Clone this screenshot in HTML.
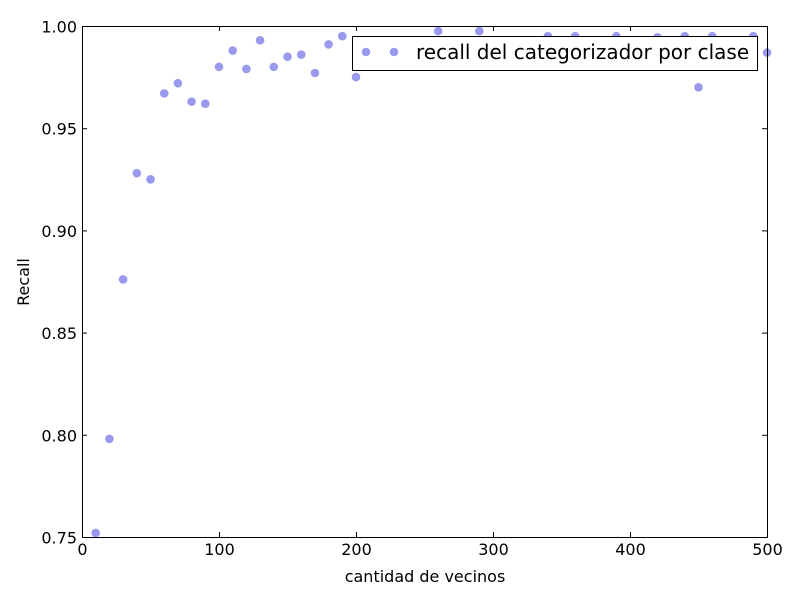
<!DOCTYPE html>
<html><head><meta charset="utf-8"><style>
body{margin:0;background:#fff;}
svg text{font-family:"DejaVu Sans","Liberation Sans",sans-serif;}
</style></head><body>
<svg id="chart" width="800" height="600">
<rect x="0" y="0" width="800" height="600" fill="#fff"/>
<g id="marks"></g>
<g id="axes"></g>
<g>
<rect x="352.5" y="36.5" width="405" height="34" fill="#fff" stroke="#000" stroke-width="1"/>
<circle cx="366" cy="52" r="4.3" fill="#9999ee"/>
<circle cx="394" cy="52" r="4.3" fill="#9999ee"/>
<text x="416" y="59" font-size="20">recall del categorizador por clase</text>
</g>
<text x="425" y="582" font-size="16" text-anchor="middle">cantidad de vecinos</text>
<text x="29" y="282" font-size="16" text-anchor="middle" transform="rotate(-90 29 282)">Recall</text>
</svg>
<script>
const neighbors = [10,20,30,40,50,60,70,80,90,100,110,120,130,140,150,160,170,180,190,200,210,220,230,240,250,260,270,280,290,300,310,320,330,340,350,360,370,380,390,400,410,420,430,440,450,460,470,480,490,500];
const recall = [0.752,0.798,0.876,0.928,0.925,0.967,0.972,0.963,0.962,0.980,0.988,0.979,0.993,0.980,0.985,0.986,0.977,0.991,0.995,0.975,0.990,0.980,0.990,0.990,0.990,0.9975,0.990,0.990,0.9975,0.990,0.990,0.990,0.990,0.995,0.990,0.995,0.990,0.990,0.995,0.990,0.990,0.9945,0.990,0.995,0.970,0.995,0.990,0.990,0.995,0.987];
const xTicks = [0,100,200,300,400,500];
const yTicks = [0.75,0.80,0.85,0.90,0.95,1.00];
const L=82,R=767,T=26,B=537;
const xs=v=>L+(v-0)/(500-0)*(R-L);
const ys=v=>B-(v-0.75)/(1.0-0.75)*(B-T);
const NS='http://www.w3.org/2000/svg';
const marks=document.getElementById('marks'), axes=document.getElementById('axes');
function mk(tag,attrs,parent){const e=document.createElementNS(NS,tag);for(const k in attrs)e.setAttribute(k,attrs[k]);parent.appendChild(e);return e;}
neighbors.forEach((n,i)=>{
  const c=mk('circle',{cx:xs(n),cy:ys(recall[i]),r:4.3,fill:'#9999ee'},marks);
  
  
});
const frame=mk('rect',{x:L+0.5,y:T+0.5,width:R-L,height:B-T,fill:'none',stroke:'#000','stroke-width':1},axes);


xTicks.forEach(t=>{
  const x=xs(t)+0.5;
  mk('line',{x1:x,x2:x,y1:B,y2:B-5,stroke:'#000'},axes);
  mk('line',{x1:x,x2:x,y1:T,y2:T+5,stroke:'#000'},axes);
  const tx=mk('text',{x:x,y:B+18,'font-size':16,'text-anchor':'middle'},axes);
  tx.textContent=t;
  
  
});
yTicks.forEach(t=>{
  const y=ys(t)+0.5;
  mk('line',{x1:L,x2:L+5,y1:y,y2:y,stroke:'#000'},axes);
  mk('line',{x1:R,x2:R-5,y1:y,y2:y,stroke:'#000'},axes);
  const tx=mk('text',{x:L-5,y:y+6,'font-size':16,'text-anchor':'end'},axes);
  tx.textContent=t.toFixed(2);
  
  
});
</script>
</body></html>
